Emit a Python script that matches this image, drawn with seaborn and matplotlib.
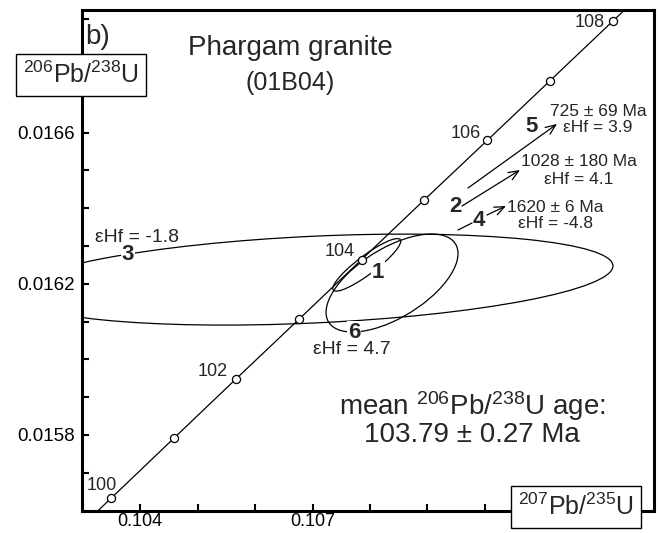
import numpy as np
import pandas as pd
import matplotlib
matplotlib.use('Agg')
import matplotlib.pyplot as plt
import matplotlib.transforms as mtransforms
from matplotlib.patches import Circle
from matplotlib.ticker import FixedLocator, MultipleLocator
import seaborn as sns

# Curva concordia: edades (Ma) y razones isotópicas
edades = [99, 100, 101, 102, 103, 104, 105, 106, 107, 108, 109]
conc_207_235 = [0.102412, 0.103498, 0.104585, 0.105674, 0.106763, 0.107854,
                0.108945, 0.110038, 0.111132, 0.112226, 0.113322]
conc_206_238 = [0.015476, 0.015633, 0.015791, 0.015949, 0.016106, 0.016264,
                0.016422, 0.016579, 0.016737, 0.016895, 0.017052]
edades_rotuladas = [100, 102, 104, 106, 108]

# Elipses de error: centro, semiancho x, semialto y, correlación
elipse_id = ['1', '3', '6']
elipse_x = [0.107944, 0.107027, 0.108383]
elipse_y = [0.016250, 0.016211, 0.016202]
elipse_sx = [0.000591, 0.005199, 0.001148]
elipse_sy = [0.0000695, 0.0001203, 0.0001296]
elipse_rho = [0.90, 0.30, 0.60]

# Ejes
x_ticks = [0.104, 0.107]
x_tick_labels = ['0.104', '0.107']
y_ticks = [0.0158, 0.0162, 0.0166]
y_tick_labels = ['0.0158', '0.0162', '0.0166']

sns.set_theme(style='ticks')
plt.rcParams['font.family'] = ['Liberation Sans', 'DejaVu Sans']
plt.rcParams['mathtext.fontset'] = 'custom'
plt.rcParams['mathtext.rm'] = 'Liberation Sans'
plt.rcParams['mathtext.default'] = 'regular'

W, H = 660, 533


def fpx(x, y):
    # pixel (desde arriba-izquierda) -> fracción de figura
    return (x / W, 1 - y / H)


fig = plt.figure(figsize=(6.6, 5.33), dpi=100)
ax = fig.add_axes([82 / W, 1 - 511 / H, (654 - 82) / W, (511 - 10) / H])

df = pd.DataFrame({'x': conc_207_235, 'y': conc_206_238, 'edad': edades})
sns.lineplot(data=df, x='x', y='y', sort=False, estimator=None,
             color='black', lw=0.9, ax=ax, zorder=3)
marcas = df[df['edad'].between(100, 108)]
sns.scatterplot(data=marcas, x='x', y='y', marker='o', s=34, color='white',
                edgecolor='black', linewidth=0.9, zorder=6, ax=ax)

# elipses
for i in range(len(elipse_id)):
    sx, sy, rho = elipse_sx[i], elipse_sy[i], elipse_rho[i]
    tr = mtransforms.Affine2D.from_values(sx, sy * rho, 0, sy * np.sqrt(1 - rho ** 2),
                                          elipse_x[i], elipse_y[i])
    c = Circle((0, 0), 1, transform=tr + ax.transData, fill=False,
               ec='black', lw=0.9, zorder=4)
    ax.add_patch(c)

ax.set_xlim(0.10299, 0.11294)
ax.set_ylim(0.015599, 0.016924)
ax.xaxis.set_major_locator(FixedLocator(x_ticks))
ax.xaxis.set_minor_locator(MultipleLocator(0.001))
ax.yaxis.set_major_locator(FixedLocator(y_ticks))
ax.yaxis.set_minor_locator(MultipleLocator(0.0001))
ax.set_xticklabels(x_tick_labels)
ax.set_yticklabels(y_tick_labels)
ax.tick_params(which='both', direction='in', length=5, width=1.5, color='black',
               top=False, right=False, labelsize=13.5, labelcolor='black')
ax.tick_params(axis='x', pad=1.5, labelsize=13)
ax.tick_params(axis='y', pad=5)
ax.set_xlabel('')
ax.set_ylabel('')
for s in ax.spines.values():
    s.set_linewidth(2.2)
    s.set_color('black')

# rótulos de edad
pos_edad = {100: (102, 486), 102: (213, 372), 104: (340, 251), 106: (466, 134), 108: (590, 22)}
for e in edades_rotuladas:
    fig.text(*fpx(*pos_edad[e]), str(e), fontsize=13, ha='center', va='center')

# textos
fig.text(*fpx(98, 37), 'b)', fontsize=20, ha='center', va='center')
fig.text(*fpx(290, 48), 'Phargam granite', fontsize=20, ha='center', va='center')
fig.text(*fpx(290, 83), '(01B04)', fontsize=18, ha='center', va='center')
fig.text(*fpx(472, 406), 'mean $^{206}$Pb/$^{238}$U age:', fontsize=20, ha='center', va='center')
fig.text(*fpx(472, 435), '103.79 ± 0.27 Ma', fontsize=20, ha='center', va='center')

caja = dict(boxstyle='square,pad=0.3', fc='white', ec='black', lw=1)
fig.text(*fpx(81, 75), '$^{206}$Pb/$^{238}$U', fontsize=18, ha='center', va='center', bbox=caja)
fig.text(*fpx(576, 507), '$^{207}$Pb/$^{235}$U', fontsize=18, ha='center', va='center', bbox=caja)

blanco = dict(boxstyle='square,pad=0.05', fc='white', ec='none')
etiquetas = {'3': (128, 255), '1': (378, 272), '6': (354, 333),
             '5': (532, 126), '2': (455, 206), '4': (479, 220)}
for k, p in etiquetas.items():
    fig.text(*fpx(*p), k, fontsize=16, fontweight='bold', ha='center', va='center',
             bbox=blanco if k in '316' else None, zorder=8)

fig.text(*fpx(137, 237), 'εHf = -1.8', fontsize=14, ha='center', va='center')
fig.text(*fpx(352, 350), 'εHf = 4.7', fontsize=14, ha='center', va='center')
fig.text(*fpx(598, 111), '725 ± 69 Ma', fontsize=12.5, ha='center', va='center')
fig.text(*fpx(598, 127), 'εHf = 3.9', fontsize=12.5, ha='center', va='center')
fig.text(*fpx(579, 162), '1028 ± 180 Ma', fontsize=12.5, ha='center', va='center')
fig.text(*fpx(579, 180), 'εHf = 4.1', fontsize=12.5, ha='center', va='center')
fig.text(*fpx(555, 207), '1620 ± 6 Ma', fontsize=12.5, ha='center', va='center')
fig.text(*fpx(555, 223), 'εHf = -4.8', fontsize=12.5, ha='center', va='center')

# flechas hacia elipses fuera de escala
flechas = [((468, 188), (557, 124)), ((462, 206), (520, 170)), ((487, 215), (506, 206))]
for a, b in flechas:
    ax.annotate('', xy=fpx(*b), xytext=fpx(*a), xycoords='figure fraction',
                arrowprops=dict(arrowstyle='->,head_length=0.6,head_width=0.25',
                                lw=0.9, color='black', shrinkA=0, shrinkB=0))
ax.annotate('', xy=fpx(472, 223), xytext=fpx(458, 230), xycoords='figure fraction',
            arrowprops=dict(arrowstyle='-', lw=0.9, color='black', shrinkA=0, shrinkB=0))

fig.savefig('out.png', dpi=100)
